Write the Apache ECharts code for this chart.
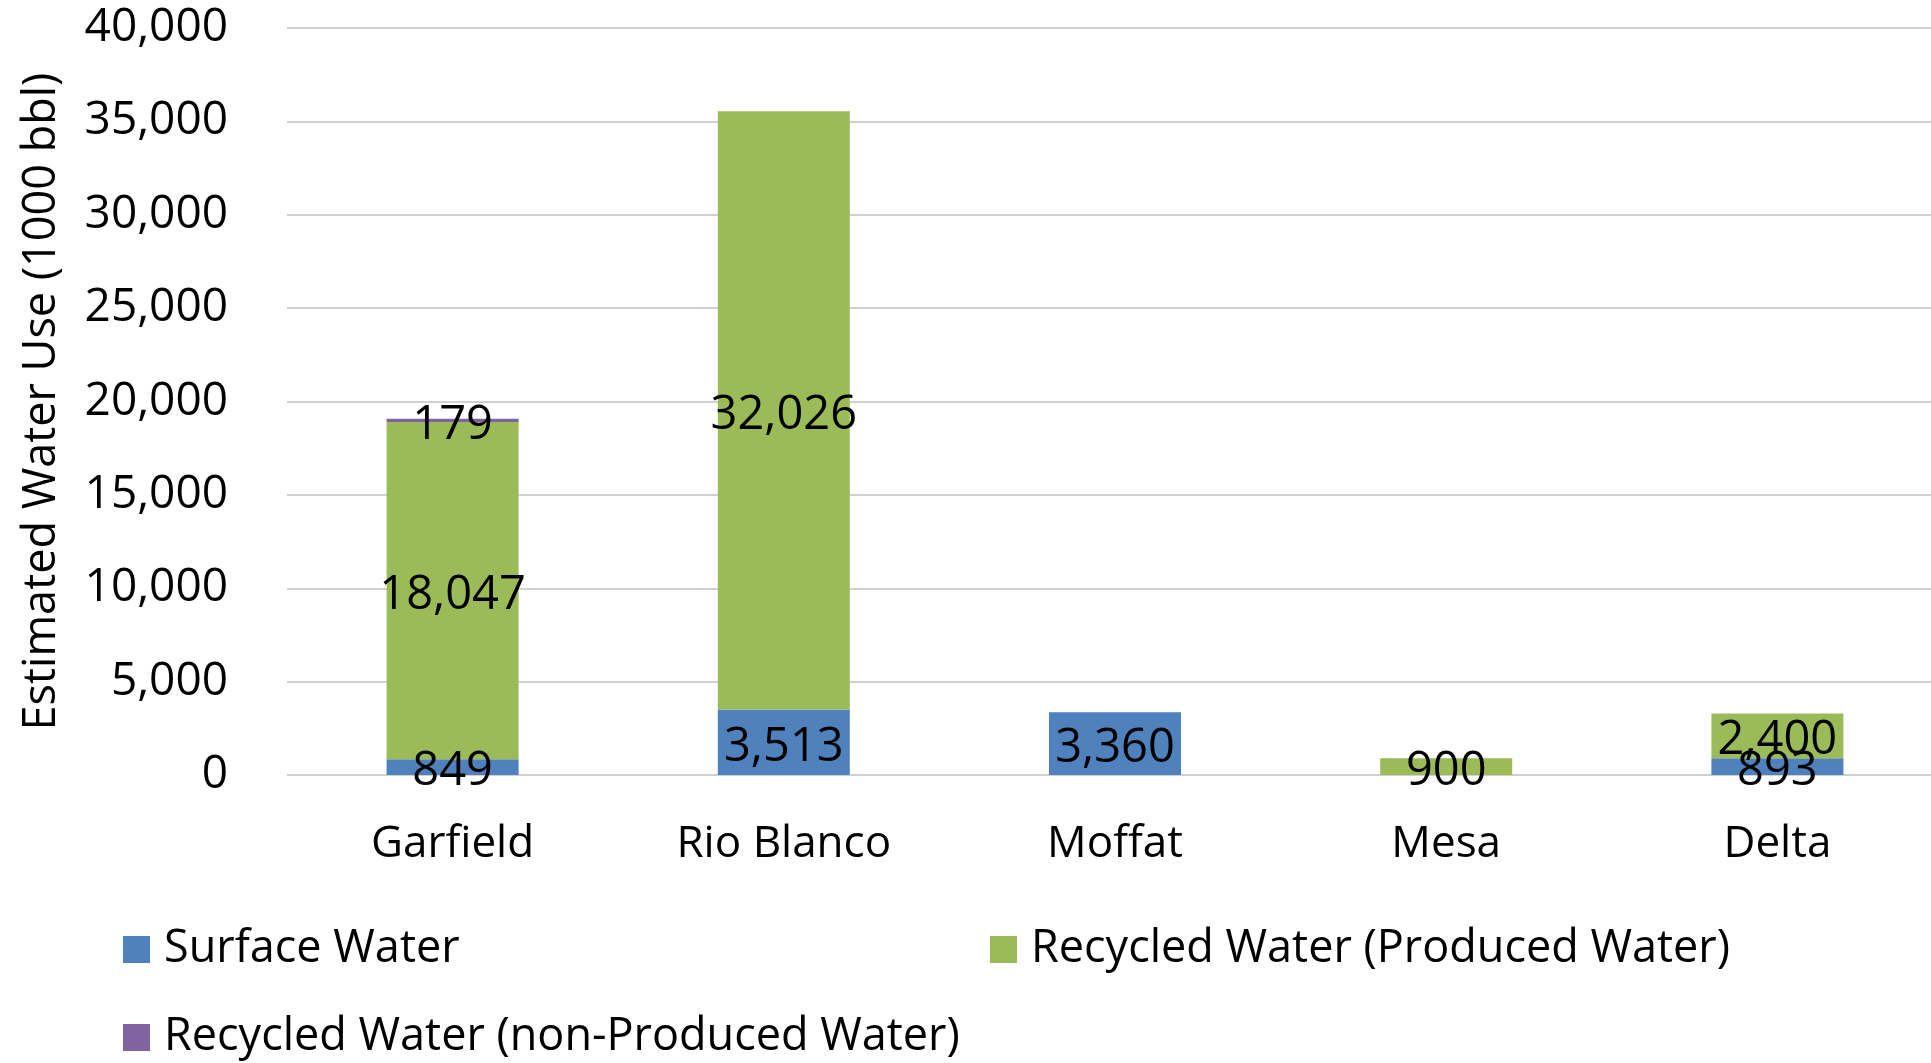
<!DOCTYPE html>
<html>
<head>
<meta charset="utf-8">
<script src="https://cdn.jsdelivr.net/npm/echarts@6/dist/echarts.min.js"></script>
<style>
html,body{margin:0;padding:0;background:#fff;}
#c{width:1931px;height:1063px;}
</style>
</head>
<body>
<div id="c"></div>
<script>
const categories = ['Garfield', 'Rio Blanco', 'Moffat', 'Mesa', 'Delta'];
const surfaceWater = [849, 3513, 3360, null, 893];
const recycledProduced = [18047, 32026, null, 900, 2400];
const recycledNonProduced = [179, null, null, null, null];
const yTicks = { min: 0, max: 40000, interval: 5000 };
const seriesNames = ['Surface Water', 'Recycled Water (Produced Water)', 'Recycled Water (non-Produced Water)'];

const FONT = '"Open Sans", sans-serif';
const fmt = v => Number(v).toLocaleString('en-US');
const labelCfg = {
  show: true, position: 'inside', offset: [0, 5], color: '#000', fontFamily: FONT, fontSize: 47,
  formatter: p => (p.value == null ? '' : fmt(p.value))
};

const chart = echarts.init(document.getElementById('c'), null, { renderer: 'canvas' });
const legendText = { color: '#000', fontFamily: FONT, fontSize: 45, padding: [0, 0, 0, 9] };
chart.setOption({
  animation: false,
  backgroundColor: '#fff',
  grid: { left: 287, top: 28, width: 1656, height: 747, outerBoundsMode: 'none', containLabel: false },
  legend: [
    { data: [seriesNames[0]], left: 118, top: 922, icon: 'rect', itemWidth: 27, itemHeight: 27, textStyle: legendText },
    { data: [seriesNames[1]], left: 985, top: 922, icon: 'rect', itemWidth: 27, itemHeight: 27, textStyle: legendText },
    { data: [seriesNames[2]], left: 118, top: 1010, icon: 'rect', itemWidth: 27, itemHeight: 27, textStyle: legendText }
  ],
  xAxis: {
    type: 'category', data: categories,
    axisLine: { show: false }, axisTick: { show: false },
    axisLabel: { color: '#000', fontFamily: FONT, fontSize: 44, margin: 47 }
  },
  yAxis: {
    type: 'value', min: yTicks.min, max: yTicks.max, interval: yTicks.interval,
    name: 'Estimated Water Use (1000 bbl)', nameLocation: 'middle', nameRotate: 90, nameGap: 222,
    nameTextStyle: { color: '#000', fontFamily: FONT, fontSize: 45 },
    axisLine: { show: false }, axisTick: { show: false },
    axisLabel: { color: '#000', fontFamily: FONT, fontSize: 46, margin: 59, padding: [8, 0, 0, 0], formatter: v => fmt(v) },
    splitLine: { show: true, lineStyle: { color: '#d0d0d0', width: 2 } }
  },
  series: [
    { name: seriesNames[0], type: 'bar', stack: 'a', data: surfaceWater, barWidth: 132, itemStyle: { color: '#4F81BD' }, label: labelCfg },
    { name: seriesNames[1], type: 'bar', stack: 'a', data: recycledProduced, barWidth: 132, itemStyle: { color: '#9BBB59' }, label: labelCfg },
    { name: seriesNames[2], type: 'bar', stack: 'a', data: recycledNonProduced, barWidth: 132, itemStyle: { color: '#8064A2' }, label: labelCfg }
  ]
});
</script>
</body>
</html>
